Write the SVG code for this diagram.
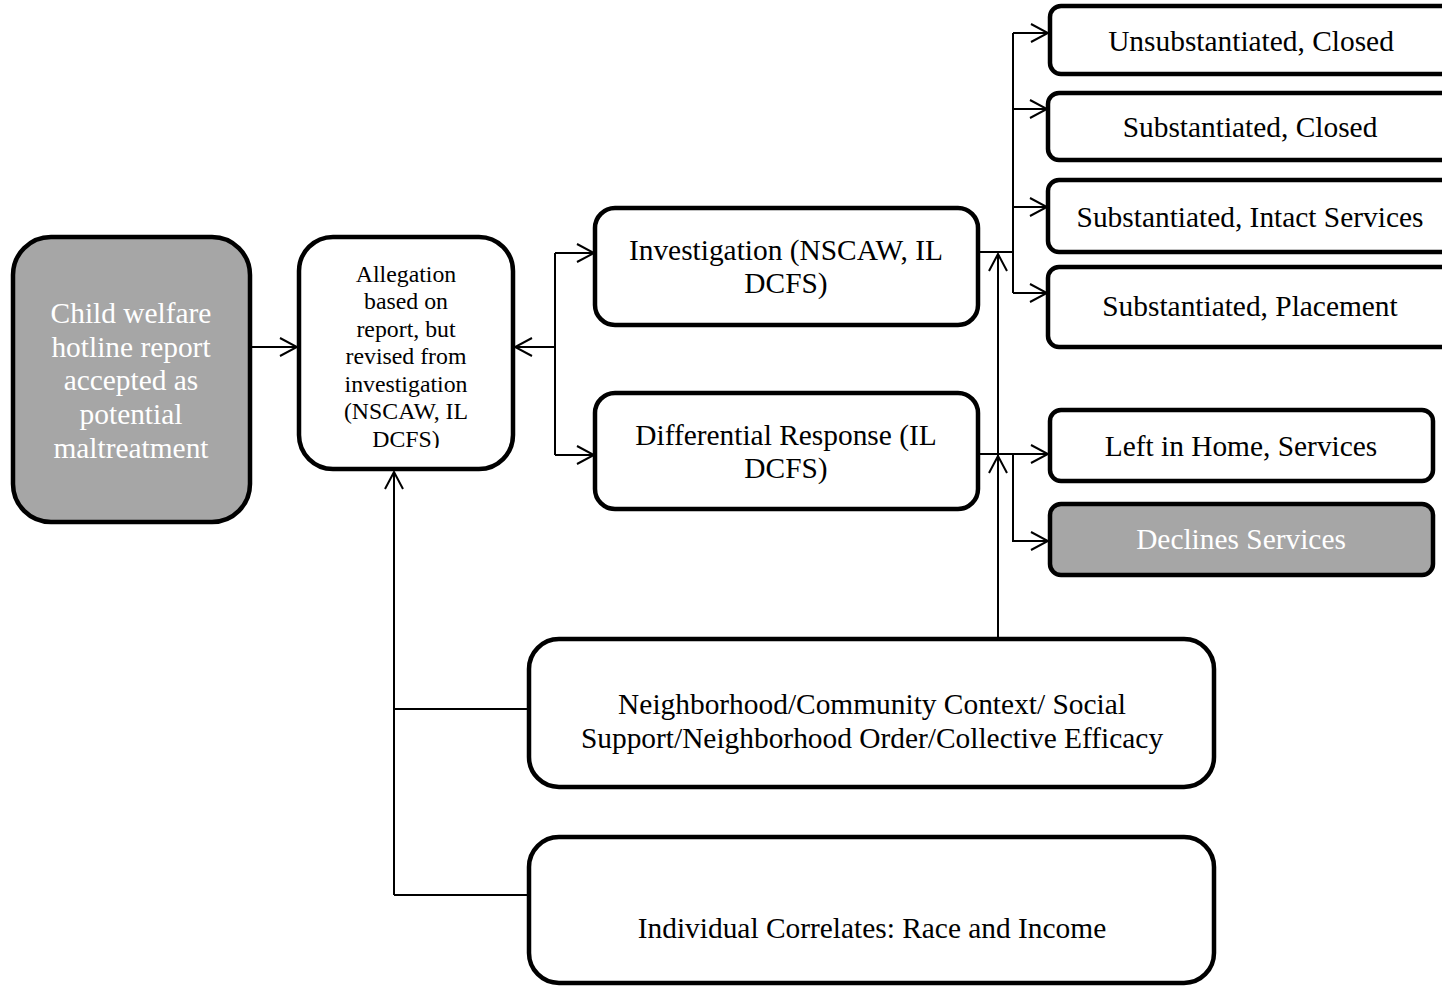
<svg xmlns="http://www.w3.org/2000/svg" width="1442" height="986" viewBox="0 0 1442 986">
<style>
.box{fill:#ffffff;stroke:#000000;stroke-width:4.5}
.gray{fill:#a6a6a6;stroke:#000000;stroke-width:4.5}
.t{font-family:"Liberation Serif","Times New Roman",serif;font-size:29.4px;fill:#000000;text-anchor:middle}
.tw{font-family:"Liberation Serif","Times New Roman",serif;font-size:29.4px;fill:#ffffff;text-anchor:middle}
.ts{font-family:"Liberation Serif","Times New Roman",serif;font-size:23.8px;fill:#000000;text-anchor:middle}
.c{fill:none;stroke:#000000;stroke-width:2}
</style>
<defs>
<marker id="arr" markerUnits="userSpaceOnUse" markerWidth="20" markerHeight="22" viewBox="0 0 20 22" refX="18" refY="11" orient="auto">
<path d="M1,2 L18,11 L1,20" fill="none" stroke="#000000" stroke-width="2"/>
</marker>
<clipPath id="clipAlleg"><rect x="300" y="240" width="212" height="208"/></clipPath>
</defs>

<g id="connectors">
<path class="c" d="M250,347 L297,347" marker-end="url(#arr)"/>
<path class="c" d="M555,347 L515,347" marker-end="url(#arr)"/>
<path class="c" d="M555,253 L555,455"/>
<path class="c" d="M555,253 L594,253" marker-end="url(#arr)"/>
<path class="c" d="M555,455 L594,455" marker-end="url(#arr)"/>
<path class="c" d="M978,252 L1013,252"/>
<path class="c" d="M1013,33 L1013,293"/>
<path class="c" d="M1013,33 L1048,33" marker-end="url(#arr)"/>
<path class="c" d="M1013,109 L1047,109" marker-end="url(#arr)"/>
<path class="c" d="M1013,207 L1047,207" marker-end="url(#arr)"/>
<path class="c" d="M1013,293 L1047,293" marker-end="url(#arr)"/>
<path class="c" d="M978,454 L1048,454" marker-end="url(#arr)"/>
<path class="c" d="M1013,454 L1013,541 L1048,541" marker-end="url(#arr)"/>
<path class="c" d="M998,637 L998,456" marker-end="url(#arr)"/>
<path class="c" d="M998,456 L998,254" marker-end="url(#arr)"/>
<path class="c" d="M394,895 L394,472" marker-end="url(#arr)"/>
<path class="c" d="M394,709 L529,709"/>
<path class="c" d="M394,895 L529,895"/>
</g>

<g id="node-hotline">
<rect class="gray" x="13" y="237" width="237" height="285" rx="38"/>
<text class="tw" x="131" y="323">Child welfare</text>
<text class="tw" x="131" y="357">hotline report</text>
<text class="tw" x="131" y="390">accepted as</text>
<text class="tw" x="131" y="424">potential</text>
<text class="tw" x="131" y="458">maltreatment</text>
</g>

<g id="node-allegation">
<rect class="box" x="299" y="237" width="214" height="232" rx="34"/>
<g clip-path="url(#clipAlleg)">
<text class="ts" x="406" y="282">Allegation</text>
<text class="ts" x="406" y="309">based on</text>
<text class="ts" x="406" y="337">report, but</text>
<text class="ts" x="406" y="364">revised from</text>
<text class="ts" x="406" y="392">investigation</text>
<text class="ts" x="406" y="419">(NSCAW, IL</text>
<text class="ts" x="406" y="447">DCFS)</text>
</g>
</g>

<g id="node-investigation">
<rect class="box" x="595" y="208" width="383" height="117" rx="20"/>
<text class="t" x="786" y="260">Investigation (NSCAW, IL</text>
<text class="t" x="786" y="293">DCFS)</text>
</g>

<g id="node-differential">
<rect class="box" x="595" y="393" width="383" height="116" rx="20"/>
<text class="t" x="786" y="445">Differential Response (IL</text>
<text class="t" x="786" y="478">DCFS)</text>
</g>

<g id="node-unsubstantiated">
<rect class="box" x="1050" y="6" width="420" height="68" rx="11"/>
<text class="t" x="1251" y="51">Unsubstantiated, Closed</text>
</g>

<g id="node-subst-closed">
<rect class="box" x="1048" y="93" width="420" height="67" rx="11"/>
<text class="t" x="1250" y="137">Substantiated, Closed</text>
</g>

<g id="node-subst-intact">
<rect class="box" x="1048" y="180" width="420" height="72" rx="11"/>
<text class="t" x="1250" y="227">Substantiated, Intact Services</text>
</g>

<g id="node-subst-placement">
<rect class="box" x="1048" y="267" width="420" height="80" rx="11"/>
<text class="t" x="1250" y="316">Substantiated, Placement</text>
</g>

<g id="node-left-home">
<rect class="box" x="1050" y="410" width="383" height="71" rx="11"/>
<text class="t" x="1241" y="456">Left in Home, Services</text>
</g>

<g id="node-declines">
<rect class="gray" x="1050" y="504" width="383" height="71" rx="11"/>
<text class="tw" x="1241" y="549">Declines Services</text>
</g>

<g id="node-neighborhood">
<rect class="box" x="529" y="639" width="685" height="148" rx="30"/>
<text class="t" x="872" y="714">Neighborhood/Community Context/ Social</text>
<text class="t" x="872" y="748">Support/Neighborhood Order/Collective Efficacy</text>
</g>

<g id="node-individual">
<rect class="box" x="529" y="837" width="685" height="146" rx="30"/>
<text class="t" x="872" y="938">Individual Correlates: Race and Income</text>
</g>
</svg>
